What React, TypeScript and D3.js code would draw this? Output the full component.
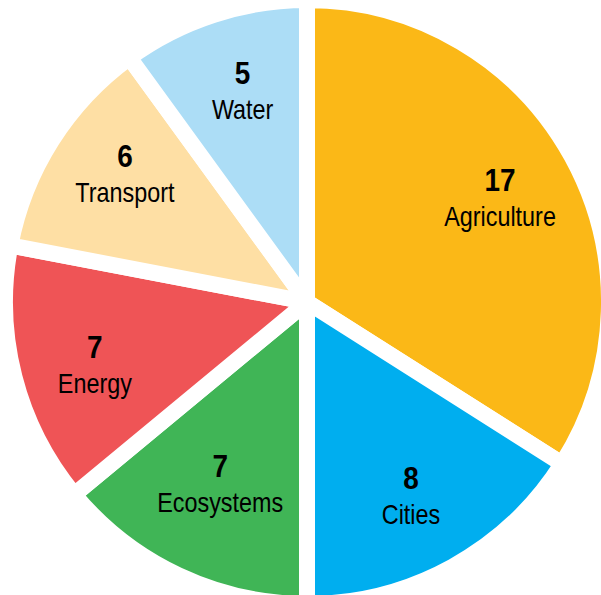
import React from 'react';
import * as d3 from 'd3';

const sectors = ['Agriculture', 'Cities', 'Ecosystems', 'Energy', 'Transport', 'Water'];
const counts = [17, 8, 7, 7, 6, 5];
const colors = ['#fbb817', '#00aeef', '#40b556', '#ef5456', '#fedfa4', '#acddf6'];

// hand placement of the labels in the original, as a shift from the centroid
const labelShift: [number, number][] = [[2, 11], [-1, 13], [6, -5], [-1, 19], [2, -1], [3, 6]];

type Slice = { name: string; value: number; color: string; shift: [number, number] };

const data: Slice[] = sectors.map((name, i) => ({
  name,
  value: counts[i],
  color: colors[i],
  shift: labelShift[i],
}));

export default function App() {
  const width = 601;
  const height = 595;
  const cx = 307;
  const cy = 302;
  const gap = 16;
  const radius = 294 + gap / 2;

  const pie = d3.pie<Slice>().value(d => d.value).sort(null);
  const arcs = pie(data);

  const arc = d3.arc<d3.PieArcDatum<Slice>>().innerRadius(0).outerRadius(radius);
  const labelArc = d3.arc<d3.PieArcDatum<Slice>>().innerRadius(218).outerRadius(218);

  const font = '"Liberation Sans", Arial, sans-serif';

  return (
    <svg
      width={width}
      height={height}
      style={{ position: 'absolute', left: 0, top: 0, background: '#fff' }}
    >
      <g transform={`translate(${cx}, ${cy})`}>
        {arcs.map(a => (
          <path
            key={a.data.name}
            d={arc(a) as string}
            fill={a.data.color}
            stroke="#fff"
            strokeWidth={gap}
            strokeLinejoin="round"
          />
        ))}
        {arcs.map(a => {
          const [x, y] = labelArc.centroid(a);
          const [dx, dy] = a.data.shift;
          return (
            <g
              key={'l' + a.data.name}
              transform={`translate(${x + dx}, ${y + dy})`}
              fontFamily={font}
              textAnchor="middle"
              fill="#000"
            >
              <text transform="translate(0, -17) scale(0.9, 1)" fontSize={31} fontWeight="bold">
                {a.data.value}
              </text>
              <text transform="translate(0, 18) scale(0.835, 1)" fontSize={28}>
                {a.data.name}
              </text>
            </g>
          );
        })}
      </g>
    </svg>
  );
}
